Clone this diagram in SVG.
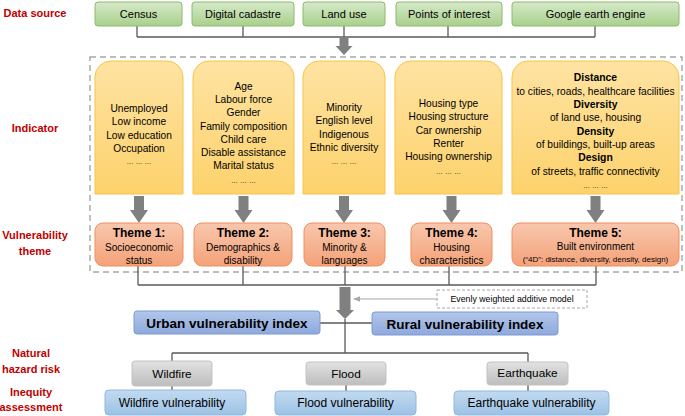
<svg xmlns="http://www.w3.org/2000/svg" width="685" height="416" viewBox="0 0 685 416">
<defs>
<linearGradient id="gGreen" x1="0" y1="0" x2="0" y2="1"><stop offset="0" stop-color="#d6e9c9"/><stop offset="1" stop-color="#a8d08c"/></linearGradient>
<linearGradient id="gYellow" x1="0" y1="0" x2="0" y2="1"><stop offset="0" stop-color="#fee3a2"/><stop offset="1" stop-color="#fdd26c"/></linearGradient>
<linearGradient id="gOrange" x1="0" y1="0" x2="0" y2="1"><stop offset="0" stop-color="#f8c7ad"/><stop offset="1" stop-color="#f4a279"/></linearGradient>
<linearGradient id="gIndex" x1="0" y1="0" x2="0" y2="1"><stop offset="0" stop-color="#b2c6ea"/><stop offset="1" stop-color="#8ea9dc"/></linearGradient>
<linearGradient id="gGray" x1="0" y1="0" x2="0" y2="1"><stop offset="0" stop-color="#e2e2e2"/><stop offset="1" stop-color="#bdbdbd"/></linearGradient>
<linearGradient id="gBlue" x1="0" y1="0" x2="0" y2="1"><stop offset="0" stop-color="#c3daf0"/><stop offset="1" stop-color="#9cc2e5"/></linearGradient>
<marker id="mSmall" viewBox="0 0 10 10" refX="9" refY="5" markerWidth="6" markerHeight="6" orient="auto-start-reverse"><path d="M0,1 L10,5 L0,9 Z" fill="#a6a6a6"/></marker>
</defs>
<style>
text{font-family:"Liberation Sans",Arial,sans-serif;fill:#000;text-anchor:middle}
.lbl{font-size:11px;font-weight:bold;fill:#c00000}
.src{fill:url(#gGreen);stroke:#8cba6c;stroke-width:1}
.srct{font-size:11px}
.ind{fill:url(#gYellow);stroke:#f7c549;stroke-width:1}
.indt{font-size:10.2px}
.indb{font-size:10.4px;font-weight:bold}
.dots{font-size:7px}
.thm{fill:url(#gOrange);stroke:#f08f5c;stroke-width:1}
.thmh{font-size:12px;font-weight:bold}
.thmt{font-size:10px}
.thms{font-size:8px}
.idx{fill:url(#gIndex);stroke:#7d9bd4;stroke-width:1}
.idxt{font-size:13.5px;font-weight:bold}
.hz{fill:url(#gGray);stroke:#c3c3c3;stroke-width:1}
.hzt{font-size:11.8px}
.vul{fill:url(#gBlue);stroke:#8eb7e0;stroke-width:1}
.vult{font-size:12px}
.ln{fill:none;stroke:#5a5a5a;stroke-width:1.3}
.blk{fill:#808080}
.dash{fill:none;stroke:#a6a6a6;stroke-width:1.4;stroke-dasharray:6 4}
</style>
<rect width="685" height="416" fill="#fff"/>

<g id="labels">
<text class="lbl" x="35" y="17">Data source</text>
<text class="lbl" x="35" y="132">Indicator</text>
<text class="lbl" x="35" y="239">Vulnerability</text>
<text class="lbl" x="35" y="255">theme</text>
<text class="lbl" x="31" y="357">Natural</text>
<text class="lbl" x="31" y="373">hazard risk</text>
<text class="lbl" x="31" y="396">Inequity</text>
<text class="lbl" x="31" y="411">assessment</text>
</g>

<g id="indicator-frame"><rect class="dash" x="90" y="57" width="592" height="215"/></g>

<g id="connectors">
<path class="ln" d="M137,26V37M243,26V37M344,26V37M448,26V37M595,26V37M137,37H595"/>
<polygon class="blk" points="339.5,37 348.5,37 348.5,46 352.5,46 344,55 335.5,46 339.5,46"/>
<polygon class="blk" points="134,196 144,196 144,210 148,210 139,223 130,210 134,210"/>
<polygon class="blk" points="238.5,196 248.5,196 248.5,210 252.5,210 243.5,223 234.5,210 238.5,210"/>
<polygon class="blk" points="339,196 349,196 349,210 353,210 344,223 335,210 339,210"/>
<polygon class="blk" points="446.5,196 456.5,196 456.5,210 460.5,210 451.5,223 442.5,210 446.5,210"/>
<polygon class="blk" points="590.5,196 600.5,196 600.5,210 604.5,210 595.5,223 586.5,210 590.5,210"/>
<path class="ln" d="M138,266V285M243,266V285M345,266V285M449,266V285M596,266V285M138,285H596"/>
<polygon class="blk" points="339.5,287 350.5,287 350.5,310 354,310 345,319 336,310 339.5,310"/>
<line x1="437" y1="299" x2="354" y2="299" stroke="#a6a6a6" stroke-width="1.2" marker-end="url(#mSmall)"/>
<path class="ln" d="M320,323H372M345,319V353M172,353H528M172,353V361M528,353V362M172,386V390M346,385V391M528,385V391"/>
</g>

<g id="src-census"><rect class="src" x="95" y="2" width="87" height="24" rx="3"/><text class="srct" x="138.5" y="18">Census</text></g>
<g id="src-cadastre"><rect class="src" x="192" y="2" width="102" height="24" rx="3"/><text class="srct" x="243" y="18">Digital cadastre</text></g>
<g id="src-landuse"><rect class="src" x="303" y="2" width="82" height="24" rx="3"/><text class="srct" x="344" y="18">Land use</text></g>
<g id="src-poi"><rect class="src" x="396" y="2" width="106" height="24" rx="3"/><text class="srct" x="449" y="18">Points of interest</text></g>
<g id="src-gee"><rect class="src" x="512" y="2" width="167" height="24" rx="3"/><text class="srct" x="595.5" y="18">Google earth engine</text></g>

<g id="ind-1"><path class="ind" d="M95,194V77A16,16 0 0 1 111,61H167A16,16 0 0 1 183,77V194Z"/>
<text class="indt" x="139" y="111.5">Unemployed</text><text class="indt" x="139" y="125">Low income</text><text class="indt" x="139" y="138.5">Low education</text><text class="indt" x="139" y="151.5">Occupation</text><text class="dots" x="139" y="164">… … …</text></g>
<g id="ind-2"><path class="ind" d="M193,194V77A16,16 0 0 1 209,61H278A16,16 0 0 1 294,77V194Z"/>
<text class="indt" x="243.5" y="89.5">Age</text><text class="indt" x="243.5" y="103">Labour force</text><text class="indt" x="243.5" y="116">Gender</text><text class="indt" x="243.5" y="129.5">Family composition</text><text class="indt" x="243.5" y="142.5">Child care</text><text class="indt" x="243.5" y="156">Disable assistance</text><text class="indt" x="243.5" y="169">Marital status</text><text class="dots" x="243.5" y="183">… … …</text></g>
<g id="ind-3"><path class="ind" d="M303,194V77A16,16 0 0 1 319,61H369A16,16 0 0 1 385,77V194Z"/>
<text class="indt" x="344" y="110.5">Minority</text><text class="indt" x="344" y="124">English level</text><text class="indt" x="344" y="137.5">Indigenous</text><text class="indt" x="344" y="151">Ethnic diversity</text><text class="dots" x="344" y="164">… … …</text></g>
<g id="ind-4"><path class="ind" d="M395,194V77A16,16 0 0 1 411,61H486A16,16 0 0 1 502,77V194Z"/>
<text class="indt" x="448.5" y="106.5">Housing type</text><text class="indt" x="448.5" y="120">Housing structure</text><text class="indt" x="448.5" y="133.5">Car ownership</text><text class="indt" x="448.5" y="147">Renter</text><text class="indt" x="448.5" y="160">Housing ownership</text><text class="dots" x="448.5" y="174">… … …</text></g>
<g id="ind-5"><path class="ind" d="M512,194V77A16,16 0 0 1 528,61H663A16,16 0 0 1 679,77V194Z"/>
<text class="indb" x="595.5" y="80.5">Distance</text><text class="indt" x="595.5" y="94.5" font-size="9.8px">to cities, roads, healthcare facilities</text><text class="indb" x="595.5" y="108">Diversity</text><text class="indt" x="595.5" y="121">of land use, housing</text><text class="indb" x="595.5" y="134.5">Density</text><text class="indt" x="595.5" y="148">of buildings, built-up areas</text><text class="indb" x="595.5" y="161">Design</text><text class="indt" x="595.5" y="174.5">of streets, traffic connectivity</text><text class="dots" x="595.5" y="188">… … …</text></g>

<g id="theme-1"><rect class="thm" x="95" y="223" width="88" height="43" rx="8"/><text class="thmh" x="139" y="237">Theme 1:</text><text class="thmt" x="139" y="250.5">Socioeconomic</text><text class="thmt" x="139" y="263.5">status</text></g>
<g id="theme-2"><rect class="thm" x="194" y="223" width="98" height="43" rx="8"/><text class="thmh" x="243" y="237">Theme 2:</text><text class="thmt" x="243" y="250.5">Demographics &amp;</text><text class="thmt" x="243" y="263.5">disability</text></g>
<g id="theme-3"><rect class="thm" x="304" y="223" width="81" height="43" rx="8"/><text class="thmh" x="344.5" y="237">Theme 3:</text><text class="thmt" x="344.5" y="250.5">Minority &amp;</text><text class="thmt" x="344.5" y="263.5">languages</text></g>
<g id="theme-4"><rect class="thm" x="411" y="223" width="81" height="43" rx="8"/><text class="thmh" x="451.5" y="237">Theme 4:</text><text class="thmt" x="451.5" y="250.5">Housing</text><text class="thmt" x="451.5" y="263.5">characteristics</text></g>
<g id="theme-5"><rect class="thm" x="512" y="223" width="167" height="43" rx="8"/><text class="thmh" x="595.5" y="237">Theme 5:</text><text class="thmt" x="595.5" y="250">Built environment</text><text class="thms" x="595.5" y="261.5">(“4D”: distance, diversity, density, design)</text></g>

<g id="model-note"><rect x="437" y="290" width="150" height="18" fill="#fff" stroke="#a6a6a6" stroke-width="1" stroke-dasharray="3 2"/><text x="512" y="302" font-size="8.8px">Evenly weighted additive model</text></g>

<g id="urban-index"><rect class="idx" x="134" y="311" width="186" height="23" rx="3"/><text class="idxt" x="227" y="328">Urban vulnerability index</text></g>
<g id="rural-index"><rect class="idx" x="372" y="312" width="186" height="23" rx="3"/><text class="idxt" x="465" y="328.5">Rural vulnerability index</text></g>

<g id="hz-wildfire"><rect class="hz" x="132" y="361" width="80" height="25" rx="3"/><text class="hzt" x="172" y="377.5">Wildfire</text></g>
<g id="hz-flood"><rect class="hz" x="306" y="362" width="80" height="23" rx="3"/><text class="hzt" x="346" y="377.5">Flood</text></g>
<g id="hz-earthquake"><rect class="hz" x="487" y="362" width="81" height="23" rx="3"/><text class="hzt" x="527.5" y="376.5">Earthquake</text></g>

<g id="vul-wildfire"><rect class="vul" x="105" y="390" width="141" height="25" rx="4"/><text class="vult" x="172" y="406.5">Wildfire vulnerability</text></g>
<g id="vul-flood"><rect class="vul" x="275" y="391" width="141" height="24" rx="4"/><text class="vult" x="345.5" y="407">Flood vulnerability</text></g>
<g id="vul-earthquake"><rect class="vul" x="454" y="391" width="155" height="24" rx="4"/><text class="vult" x="531.5" y="406.5">Earthquake vulnerability</text></g>
</svg>
